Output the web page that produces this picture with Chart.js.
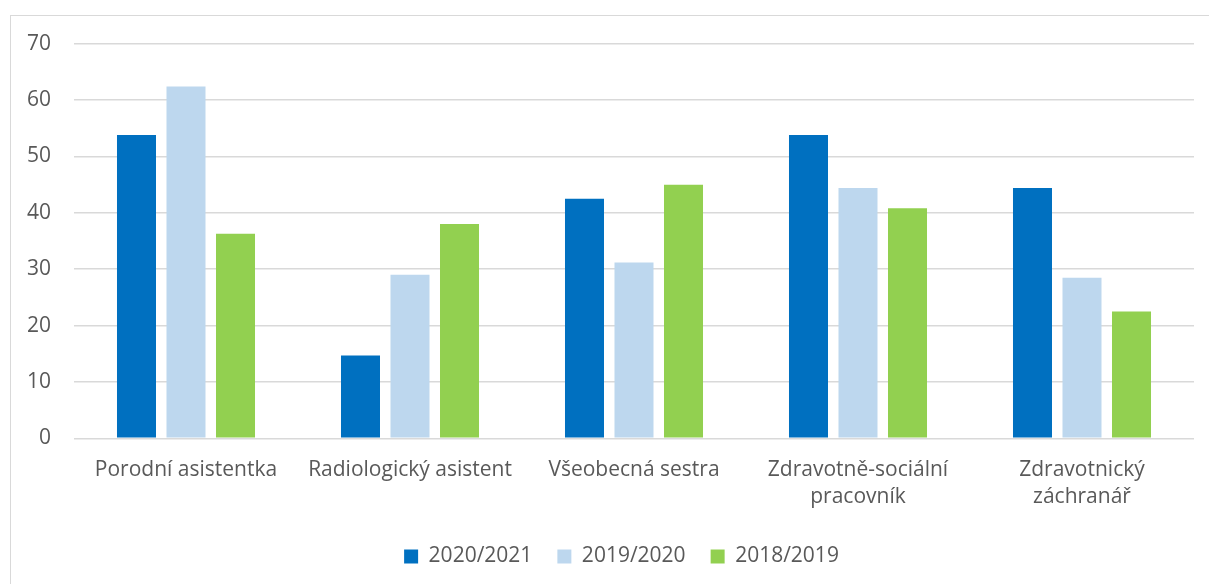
<!DOCTYPE html>
<html>
<head>
<meta charset="utf-8">
<script src="https://cdn.jsdelivr.net/npm/chart.js@4.4.1/dist/chart.umd.min.js"></script>
<style>
  html, body { margin: 0; padding: 0; background: #fff; overflow: hidden; }
  body { width: 1209px; height: 584px; position: relative; }
  /* chart frame, runs past the right and bottom edge like the source */
  #frame {
    position: absolute; left: 10px; top: 15px;
    width: 1223px; height: 582px;
    border: 1px solid #d9d9d9; box-sizing: border-box;
  }
  #frame canvas { position: absolute; left: 0; top: 0; }
</style>
</head>
<body>
<div id="frame"><canvas id="chart" width="1221" height="580"></canvas></div>
<script>
// data
const categories = [
  "Porodní asistentka",
  "Radiologický asistent",
  "Všeobecná sestra",
  ["Zdravotně-sociální", "pracovník"],
  ["Zdravotnický", "záchranář"]
];
const seriesNames = ["2020/2021", "2019/2020", "2018/2019"];
const values2020 = [53.8, 14.7, 42.5, 53.8, 44.4];
const values2019 = [62.4, 29.0, 31.2, 44.4, 28.5];
const values2018 = [36.3, 38.0, 45.0, 40.8, 22.5];
const yTicks = [0, 10, 20, 30, 40, 50, 60, 70];

const colors = ["#0070c0", "#bdd7ee", "#92d050"];
const textColor = "#595959";
const fontFamily = "'Open Sans', sans-serif";

// scale paddings from label overflow are not wanted here
function noPad(axis) {
  axis.paddingTop = 0; axis.paddingBottom = 0;
  axis.paddingLeft = 0; axis.paddingRight = 0;
}

const ctx = document.getElementById("chart");
new Chart(ctx, {
  type: "bar",
  data: {
    labels: categories,
    datasets: [values2020, values2019, values2018].map((vals, i) => ({
      label: seriesNames[i],
      data: vals,
      backgroundColor: colors[i],
      borderWidth: 0,
      categoryPercentage: 0.663,
      barPercentage: 0.788
    }))
  },
  options: {
    responsive: false,
    animation: false,
    layout: { padding: { left: 16, right: 16, top: 27.7, bottom: 19 } },
    plugins: {
      tooltip: { enabled: false },
      legend: {
        position: "bottom",
        labels: {
          color: textColor,
          font: { family: fontFamily, size: 21 },
          boxWidth: 14,
          boxHeight: 14,
          padding: 25
        }
      }
    },
    scales: {
      x: {
        grid: { display: false },
        border: { display: false },
        afterFit: (axis) => { noPad(axis); axis.height = axis.height + 0.1; },
        ticks: {
          color: textColor,
          font: { family: fontFamily, size: 21, lineHeight: 1.3 },
          padding: 10,
          maxRotation: 0,
          autoSkip: false
        }
      },
      y: {
        min: 0,
        max: 70,
        afterBuildTicks: (axis) => { axis.ticks = yTicks.map(v => ({ value: v })); },
        afterFit: (axis) => { noPad(axis); axis.width = 47; },
        grid: { color: "#d9d9d9", lineWidth: 1.5, drawTicks: false },
        border: { display: false },
        ticks: {
          color: textColor,
          font: { family: fontFamily, size: 21 },
          padding: 23
        }
      },
      // empty strip right of the plot, the frame is wider than the plot
      yRight: {
        type: "linear",
        position: "right",
        grid: { display: false },
        border: { display: false },
        ticks: { display: false },
        afterFit: (axis) => { noPad(axis); axis.width = 22; }
      }
    }
  }
});
</script>
</body>
</html>
